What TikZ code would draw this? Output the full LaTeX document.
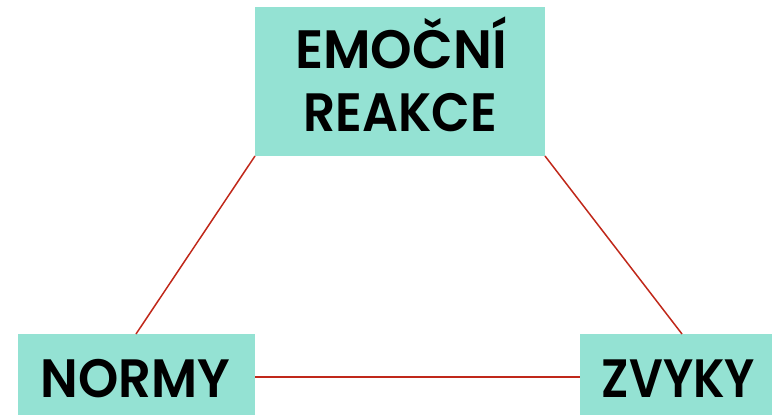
\documentclass[tikz,border=0pt]{standalone}
\usepackage{fontspec}
\setmainfont{Poppins}[UprightFont={* SemiBold}]
\definecolor{boxfill}{HTML}{94E2D3}
\definecolor{linkred}{HTML}{C0281A}
\begin{document}
\begin{tikzpicture}[x=1pt,y=-1pt,
  block/.style={fill=boxfill,draw=none},
  lbl/.style={anchor=base,inner sep=0pt,font=\fontsize{54}{54}\selectfont},
  link/.style={draw=linkred,line width=1.5pt}]
\useasboundingbox (0,0) rectangle (772,415);
% boxes
\path[block] (255,7) rectangle (545,156);
\path[block] (18,334) rectangle (255,415);
\path[block] (580,334) rectangle (772,415);
% anchors on the box edges
\coordinate (topL) at (255,156);
\coordinate (topR) at (545,156);
\coordinate (normTop) at (136,334);
\coordinate (normR) at (255,377);
\coordinate (zvTop) at (682,334);
\coordinate (zvL) at (580,377);
\draw[link] (topL) -- (normTop);
\draw[link] (topR) -- (zvTop);
\draw[link] (normR) -- (zvL);
% labels
\node[lbl] (emo) at (401,68) {\scalebox{0.98}[1]{EMOČNÍ}};
\node[lbl] (rea) at (400.5,131) {\scalebox{0.93}[1]{REAKCE}};
\node[lbl] (nor) at (135.5,397) {\scalebox{0.95}[1]{NORMY}};
\node[lbl] (zvy) at (678.5,397) {\scalebox{0.88}[1]{ZVYKY}};
\end{tikzpicture}
\end{document}
